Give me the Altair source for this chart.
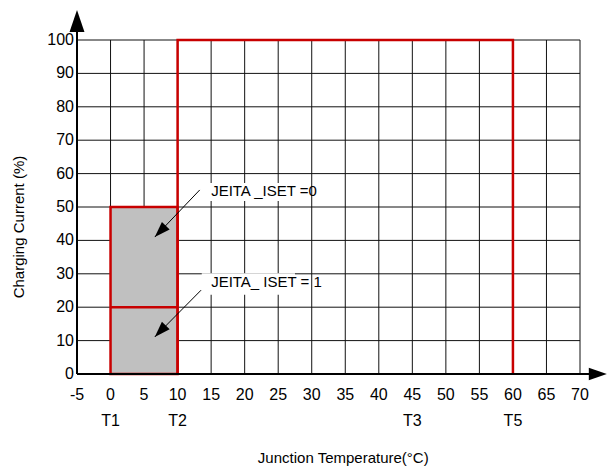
import altair as alt
import pandas as pd

# ---- data ----
x_ticks = [-5, 0, 5, 10, 15, 20, 25, 30, 35, 40, 45, 50, 55, 60, 65, 70]
y_ticks = [0, 10, 20, 30, 40, 50, 60, 70, 80, 90, 100]

# red outline for the normal-charge window (T2..T5 at 100 %)
outline_x = [10, 10, 60, 60]
outline_y = [0, 100, 100, 0]

# grey reduced-current block (T1..T2)
block_x = [0, 10]
block_y = [0, 50]
block_split = 20  # JEITA_ISET=1 level

# T markers
t_names = ["T1", "T2", "T3", "T5"]
t_pos = [0, 10, 45, 60]
t_label_y = -14

# axis titles
x_title = "Junction Temperature(°C)"
y_title = "Charging Current  (%)"
x_title_pos = [34.7, -25.1]
y_title_pos = [-13.7, 44.0]

# annotations
ann_text = ["JEITA _ISET =0", "JEITA_ ISET = 1"]
ann_x = [15.0, 15.0]
ann_y = [54.8, 27.6]
box_x1 = [13.6, 13.6]
box_x2 = [27.5, 27.5]
box_y1 = [51.8, 23.7]
box_y2 = [57.2, 30.2]
arr_x1 = [13.3, 13.5]
arr_y1 = [55.1, 25.1]
arr_x2 = [6.6, 6.6]
arr_y2 = [41.0, 11.1]

# axis arrows
yaxis_tip = 109
xaxis_tip = 74.0

RED = "#C80000"
FONT = "Liberation Sans"

xs = alt.Scale(domain=[-5, 70], nice=False, zero=False)
ys = alt.Scale(domain=[0, 100], nice=False, zero=False)
X = lambda f: alt.X(f, scale=xs, axis=None)
Y = lambda f: alt.Y(f, scale=ys, axis=None)

# grid
vgrid_df = pd.DataFrame({"x": x_ticks, "y1": [y_ticks[0]] * len(x_ticks),
                         "y2": [y_ticks[-1]] * len(x_ticks)})
vgrid = alt.Chart(vgrid_df).mark_rule(color="#111", strokeWidth=1).encode(
    x=X("x:Q"), y=Y("y1:Q"), y2="y2")
hgrid_df = pd.DataFrame({"y": y_ticks, "x1": [x_ticks[0]] * len(y_ticks),
                         "x2": [x_ticks[-1]] * len(y_ticks)})
hgrid = alt.Chart(hgrid_df).mark_rule(color="#111", strokeWidth=1).encode(
    y=Y("y:Q"), x=X("x1:Q"), x2="x2")

# tick labels
xl_df = pd.DataFrame({"x": x_ticks, "y": [0] * len(x_ticks),
                      "t": [str(v) for v in x_ticks]})
xlabels = alt.Chart(xl_df).mark_text(font=FONT, fontSize=16, color="#000",
                                     align="center", baseline="middle", dy=21).encode(
    x=X("x:Q"), y=Y("y:Q"), text="t:N")
yl_df = pd.DataFrame({"y": y_ticks, "x": [x_ticks[0]] * len(y_ticks),
                      "t": [str(v) for v in y_ticks]})
ylabels = alt.Chart(yl_df).mark_text(font=FONT, fontSize=16, color="#000",
                                     align="right", baseline="middle", dx=-3).encode(
    x=X("x:Q"), y=Y("y:Q"), text="t:N")

# axis titles
tt_df = pd.DataFrame({"x": [x_title_pos[0]], "y": [x_title_pos[1]], "t": [x_title]})
xtitle = alt.Chart(tt_df).mark_text(font=FONT, fontSize=15, color="#000",
                                    align="center", baseline="middle").encode(
    x=X("x:Q"), y=Y("y:Q"), text="t:N")
yt_df = pd.DataFrame({"x": [y_title_pos[0]], "y": [y_title_pos[1]], "t": [y_title]})
ytitle = alt.Chart(yt_df).mark_text(font=FONT, fontSize=15, color="#000",
                                    align="center", baseline="middle", angle=270).encode(
    x=X("x:Q"), y=Y("y:Q"), text="t:N")

block_df = pd.DataFrame({"x1": [block_x[0]], "x2": [block_x[1]],
                         "y1": [block_y[0]], "y2": [block_y[1]]})
block = alt.Chart(block_df).mark_rect(fill="#C0C0C0", stroke=RED, strokeWidth=2.5).encode(
    x=X("x1:Q"), x2="x2", y=Y("y1:Q"), y2="y2")

split_df = pd.DataFrame({"x1": [block_x[0]], "x2": [block_x[1]], "y": [block_split]})
split = alt.Chart(split_df).mark_rule(color=RED, strokeWidth=2.5).encode(
    x=X("x1:Q"), x2="x2", y=Y("y:Q"))

out_df = pd.DataFrame({"x": outline_x, "y": outline_y, "o": list(range(len(outline_x)))})
outline = alt.Chart(out_df).mark_line(color=RED, strokeWidth=2.5, strokeJoin="miter").encode(
    x=X("x:Q"), y=Y("y:Q"), order="o:Q")

# axis lines with arrows
axl_df = pd.DataFrame({"x1": [-5, -5], "x2": [-5, xaxis_tip - 1],
                       "y1": [0, 0], "y2": [yaxis_tip - 2, 0]})
axis_lines = alt.Chart(axl_df).mark_rule(color="#000", strokeWidth=2).encode(
    x=X("x1:Q"), x2="x2", y=Y("y1:Q"), y2="y2")

ARROW = "M0,0 L-0.34,1 L0.34,1 Z"
tips_df = pd.DataFrame({"x": [-5, xaxis_tip], "y": [yaxis_tip, 0], "a": [0, 90],
                        "s": [1936, 1300]})
axis_heads = alt.Chart(tips_df).mark_point(shape=ARROW, filled=True, color="#000",
                                           opacity=1, strokeWidth=0).encode(
    x=X("x:Q"), y=Y("y:Q"), angle=alt.Angle("a:Q", scale=None),
    size=alt.Size("s:Q", scale=None))

# T labels
t_df = pd.DataFrame({"x": t_pos, "y": [t_label_y] * len(t_pos), "t": t_names})
t_text = alt.Chart(t_df).mark_text(font=FONT, fontSize=16, color="#000",
                                   baseline="middle", align="center").encode(
    x=X("x:Q"), y=Y("y:Q"), text="t:N")

# annotation boxes, arrows, text
box_df = pd.DataFrame({"x1": box_x1, "x2": box_x2, "y1": box_y1, "y2": box_y2})
boxes = alt.Chart(box_df).mark_rect(fill="white").encode(
    x=X("x1:Q"), x2="x2", y=Y("y1:Q"), y2="y2")

arr_df = pd.DataFrame({"x1": arr_x1, "y1": arr_y1, "x2": arr_x2, "y2": arr_y2})
arr_lines = alt.Chart(arr_df).mark_rule(color="#000", strokeWidth=1).encode(
    x=X("x1:Q"), x2="x2", y=Y("y1:Q"), y2="y2")

head_df = pd.DataFrame({"x": arr_x2, "y": arr_y2, "a": [224, 224]})
arr_heads = alt.Chart(head_df).mark_point(shape=ARROW, filled=True, color="#000",
                                          opacity=1, size=1000, strokeWidth=0).encode(
    x=X("x:Q"), y=Y("y:Q"), angle=alt.Angle("a:Q", scale=None))

ann_df = pd.DataFrame({"x": ann_x, "y": ann_y, "t": ann_text})
ann = alt.Chart(ann_df).mark_text(font=FONT, fontSize=15, color="#000",
                                  align="left", baseline="middle").encode(
    x=X("x:Q"), y=Y("y:Q"), text="t:N")

chart = alt.layer(vgrid, hgrid, block, split, outline, boxes, arr_lines, arr_heads, ann,
                  xlabels, ylabels, t_text, xtitle, ytitle,
                  axis_lines, axis_heads).properties(
    width=503, height=334,
    autosize=alt.AutoSizeParams(type="none"),
    padding={"left": 77, "top": 40, "right": 28, "bottom": 94},
    background="white",
).configure_view(stroke=None)

chart.save("out.html", embed_options={"renderer": "svg", "actions": False})
